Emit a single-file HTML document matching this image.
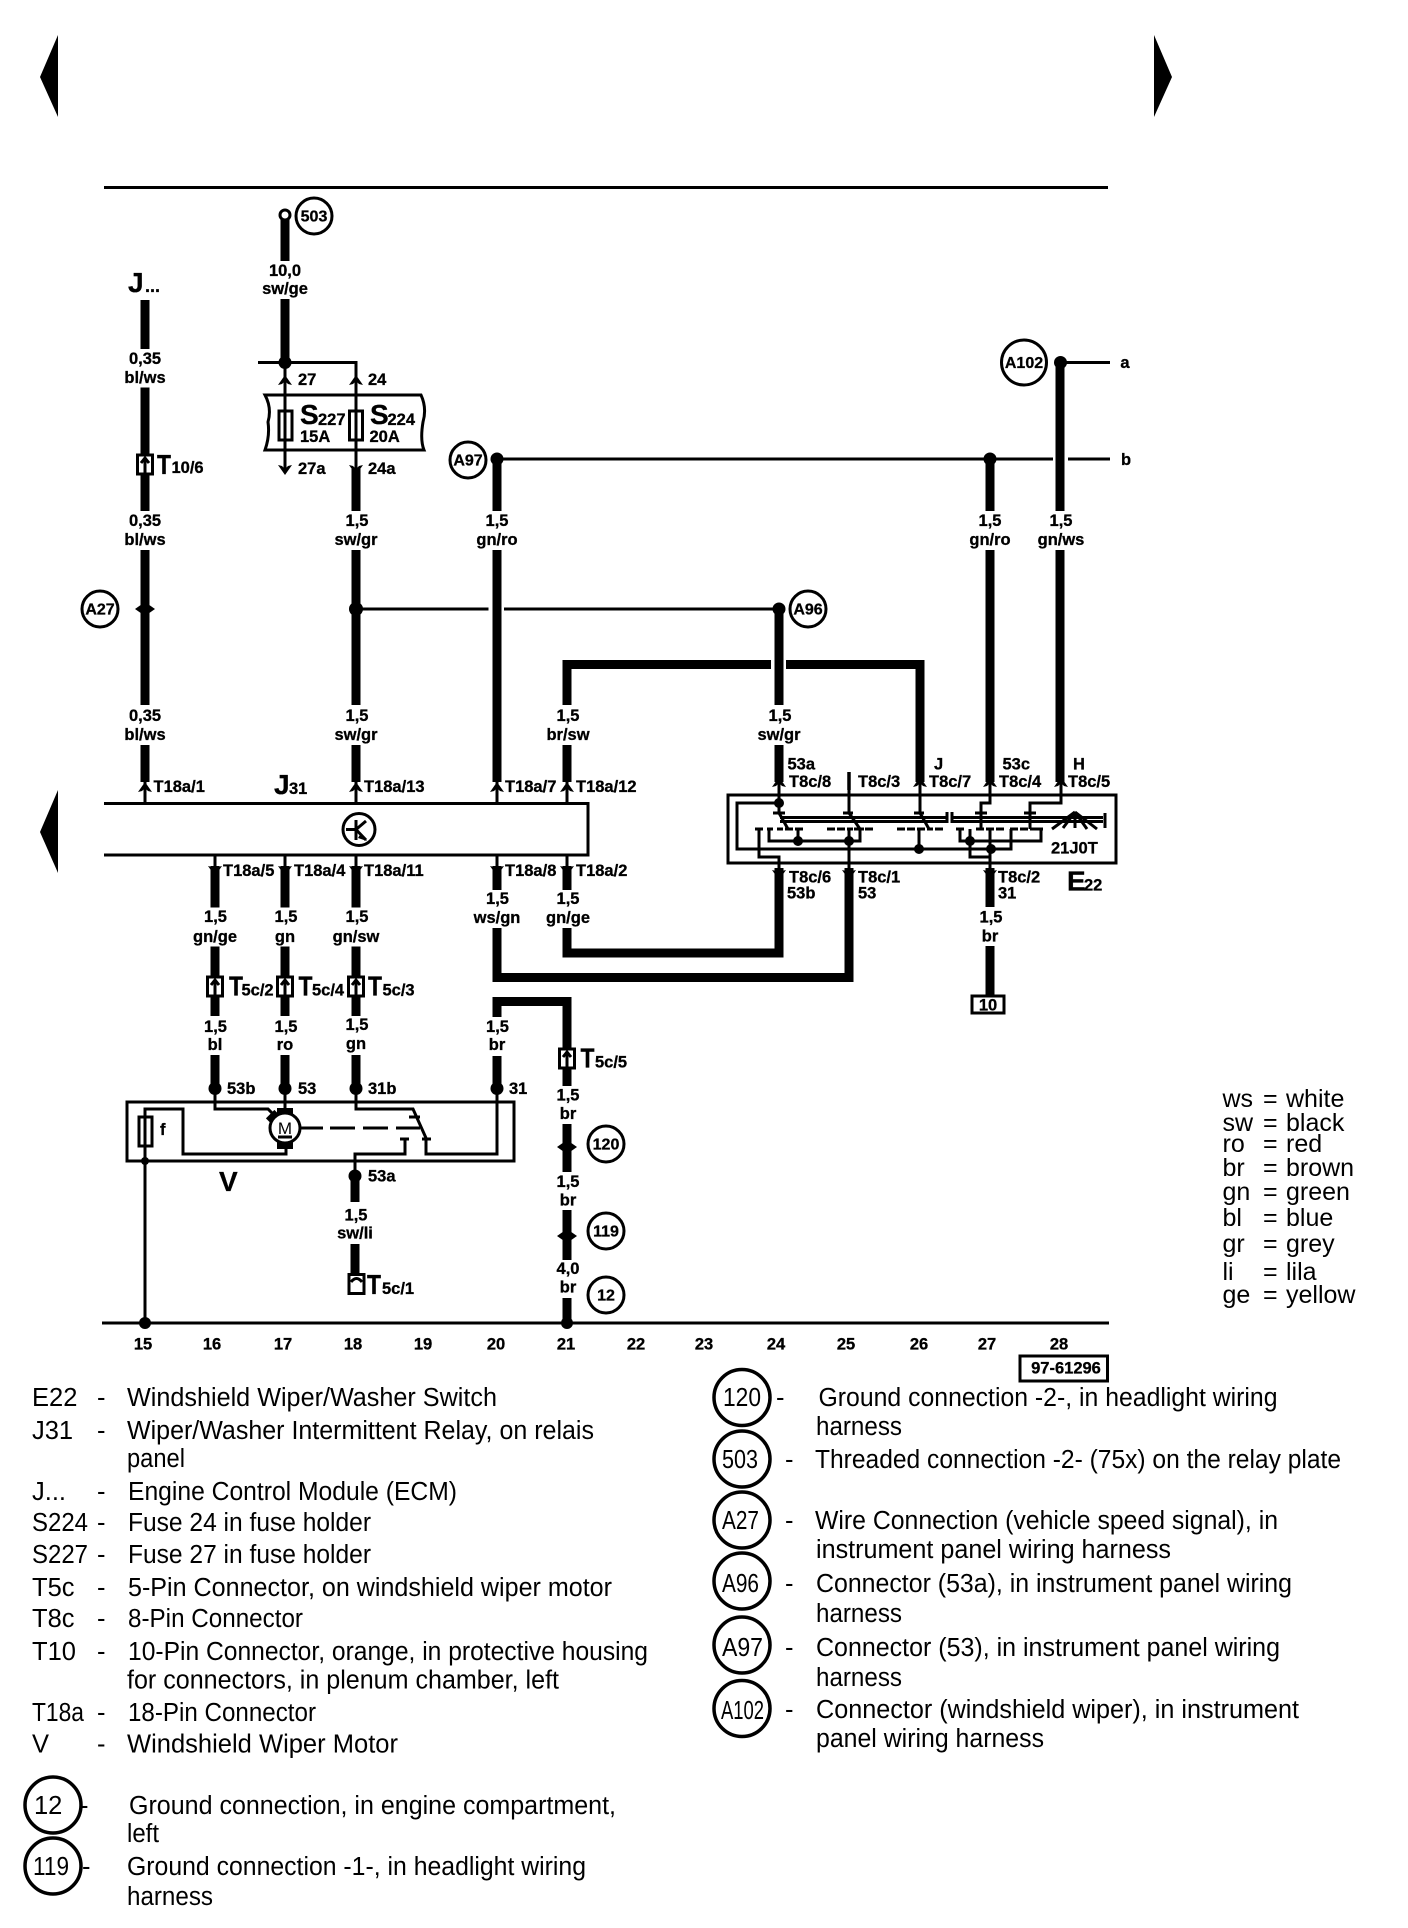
<!DOCTYPE html>
<html><head><meta charset="utf-8"><title>Wiring diagram</title>
<style>
html,body{margin:0;padding:0;background:#fff}
svg{display:block}
text{font-family:"Liberation Sans",sans-serif;fill:#000}
.m text,.s text{font-weight:bold;font-size:16.5px;stroke:#000;stroke-width:.3}
.m text{text-anchor:middle}
.B text{font-weight:bold;font-size:28px;stroke:#000;stroke-width:.3}
.c{font-weight:bold;font-size:16px;text-anchor:middle;stroke:#000;stroke-width:.3}
.d text{font-size:25.5px}
.k text{font-size:25px}
.w{fill:none;stroke:#000;stroke-width:9}
.f{fill:none;stroke:#000;stroke-width:3}
.o{fill:#fff;stroke:#000;stroke-width:3}
.O{fill:none;stroke:#000;stroke-width:3.5}
</style></head><body>
<svg xmlns="http://www.w3.org/2000/svg" width="1408" height="1928" viewBox="0 0 1408 1928">
<defs>
<path id="au" d="M-7 5 L0 -5 L7 5 L3 4 L0 1 L-3 4Z"/>
<path id="ad" d="M-7 -5 L0 5 L7 -5 L3 -4 L0 -1 L-3 -4Z"/>
<g id="cn"><rect x="-7.5" y="0" width="15" height="19" class="o"/><path d="M0 19V5M-4 8L0 3L4 8" class="f"/></g>
<path id="di" d="M-10 0L0 -7L10 0L0 7Z"/>
</defs>
<rect width="1408" height="1928" fill="#fff"/>

<!-- page arrows and frame lines -->
<path d="M58 35L40 77L58 117Z"/>
<path d="M1154 35L1172 77L1154 117Z"/>
<path d="M58 790L40 832L58 873Z"/>
<path d="M104 187.5H1108" class="f"/>
<path d="M102 1323H1109" class="f"/>

<!-- thick wires -->
<g class="w">
<path d="M145 300V349M145 387.5V511M145 550V705M145 745V782"/>
<path d="M285 218V261M285 299V362"/>
<path d="M356 469V511M356 550V705M356 745V782"/>
<path d="M497 459V511M497 550V782"/>
<path d="M567 705V664.5H771M786 664.5H920V782M567 745V782"/>
<path d="M779 609V705M779 745V782"/>
<path d="M990 459V511M990 550V782"/>
<path d="M1060 362V511M1060 550V782"/>
<path d="M215 866V907.5M215 946.5V1016M215 1055V1088"/>
<path d="M285 866V907.5M285 946.5V1016M285 1055V1088"/>
<path d="M356 866V907.5M356 946.5V1016M356 1055V1088"/>
<path d="M497 866V890M497 928V977.5H849V868"/>
<path d="M567 866V890M567 928V953H779V868"/>
<path d="M497 1017V1001.5H567V1086M567 1124V1172M567 1210V1260M567 1298V1323M497 1056V1088"/>
<path d="M990 868V907M990 946V995"/>
<path d="M355 1175V1202M355 1244V1274"/>
</g>

<!-- thin wires -->
<g class="f">
<path d="M258 362.5H356V473M285 362.5V473"/>
<path d="M497 459H1053M1068 459H1110"/>
<path d="M1060 362.5H1110"/>
<path d="M356 609H488.5M504 609H779"/>
<path d="M145 782V803M356 782V803M497 782V803M567 782V803"/>
<path d="M215 855V868M285 855V868M356 855V868M497 855V868M567 855V868"/>
<path d="M145 1161V1323"/>
</g>

<!-- fuse box -->
<path d="M265 395H421Q427 408 423 422Q420 440 424 450H265Q270 436 268 422Q272 408 265 395Z" class="o"/>
<path d="M285 362.5V473M356 362.5V473" class="f"/>
<rect x="279" y="411" width="13" height="29" class="f"/>
<rect x="349.500" y="411" width="13" height="29" class="f"/>
<g>
<use href="#au" x="285" y="380"/><use href="#au" x="356" y="380"/>
<use href="#ad" x="285" y="470"/><use href="#ad" x="356" y="470"/>
</g>

<!-- J31 box -->
<path d="M104 803.500H588V855H104" class="f"/>
<circle cx="359" cy="829.500" r="16" class="f"/>
<path d="M356 820V840M346 829.500H356M356 829.500L366 821M356 829.500L366 840" class="f"/>
<path d="M361 833L367 841L358 838Z"/>
<g>
<use href="#au" x="145" y="787"/><use href="#au" x="356" y="787"/><use href="#au" x="497" y="787"/><use href="#au" x="567" y="787"/>
<use href="#ad" x="215" y="871"/><use href="#ad" x="285" y="871"/><use href="#ad" x="356" y="871"/><use href="#ad" x="497" y="871"/><use href="#ad" x="567" y="871"/>
</g>

<!-- connectors -->
<use href="#cn" x="145" y="455"/>
<use href="#cn" x="215" y="977"/>
<use href="#cn" x="285" y="977"/>
<use href="#cn" x="356" y="977"/>
<use href="#cn" x="567" y="1049"/>
<rect x="349" y="1274.500" width="15" height="19" class="o"/>
<path d="M351 1282Q356.500 1275 362 1282" class="f"/>

<!-- dots -->
<g>
<circle cx="285" cy="362.500" r="6.500"/>
<circle cx="497" cy="459" r="6.500"/>
<circle cx="990" cy="459" r="6.500"/>
<circle cx="1060.500" cy="362.500" r="6.500"/>
<circle cx="779" cy="609" r="6.500"/>
<circle cx="356" cy="609" r="7"/>
<use href="#di" x="145" y="609"/>
<circle cx="215" cy="1088.500" r="6.500"/>
<circle cx="285" cy="1088.500" r="6.500"/>
<circle cx="356" cy="1088.500" r="6.500"/>
<circle cx="497" cy="1088.500" r="6.500"/>
<circle cx="355" cy="1176" r="6.500"/>
<circle cx="145" cy="1323" r="6"/>
<circle cx="567" cy="1323" r="6"/>
<circle cx="145" cy="1161" r="4"/>
<use href="#di" x="567" y="1147"/>
<use href="#di" x="567" y="1236"/>
</g>
<circle cx="285" cy="215" r="5" class="o"/>

<!-- reference circles -->
<g class="f">
<circle cx="314" cy="216" r="18"/>
<circle cx="468" cy="460" r="18"/>
<circle cx="1024" cy="362.500" r="22.500"/>
<circle cx="100" cy="609" r="18"/>
<circle cx="808" cy="609" r="18"/>
<circle cx="606" cy="1144" r="18"/>
<circle cx="606" cy="1231" r="18"/>
<circle cx="606" cy="1295" r="18"/>
</g>
<text class="c" x="314" y="221.500">503</text>
<text class="c" x="468" y="465.500">A97</text>
<text class="c" x="1024" y="368">A102</text>
<text class="c" x="100" y="614.500">A27</text>
<text class="c" x="808" y="614.500">A96</text>
<text class="c" x="606" y="1149.500">120</text>
<text class="c" x="606" y="1236.500">119</text>
<text class="c" x="606" y="1300.500">12</text>

<!-- V motor -->
<rect x="127" y="1102" width="387" height="59" class="f"/>
<rect x="139" y="1117" width="13" height="29" class="f"/>
<path d="M145 1161V1109H183V1154H286V1146" class="f"/>
<path d="M215 1088V1109H268L275 1116" class="f"/>
<path d="M285 1088V1108" class="f"/>
<rect x="277" y="1108" width="16" height="9"/>
<rect x="277" y="1140" width="16" height="9"/>
<rect x="267" y="1113" width="12" height="8" transform="rotate(-45 273 1117)"/>
<circle cx="285" cy="1128" r="15" class="o"/>
<text x="285" y="1134" text-anchor="middle" font-size="17">M</text>
<path d="M278 1137H292" class="f"/>
<path d="M300 1128H323M330 1128H355M363 1128H388M396 1128H420" class="f"/>
<path d="M356 1088V1109H413L426 1138M409 1117H420M422 1139H431M426 1139V1154H497V1088" class="f"/>
<path d="M400 1139H409M405 1139V1154H355V1175" class="f"/>
<g class="s"><text x="160" y="1135">f</text></g>

<!-- E22 switch -->
<rect x="728" y="795" width="388" height="68" class="f"/>
<g class="f">
<path d="M779 780V803H737V849H1011V829"/>
<path d="M849 780V813L860 829M849 829V868"/>
<path d="M920 780V813L929 829M919 829V849"/>
<path d="M990 780V803H981V829"/>
<path d="M1061 780V803H1030V829"/>
<path d="M779 803V813L788 829"/>
<path d="M773 813H785M843 813H853M914 813H924M975 813H987M1024 813H1036"/>
<path d="M780 817.500H947M780 821.500H947M947 812V823M952 812V823M952 817.500H1103M952 821.500H1103M1105 813V828"/>
<path d="M755 829H763M759 829V857H779V868"/>
<path d="M767 829H773M777 829H783M785 829H793M795 829H803"/>
<path d="M769 829V841H860V829M798 829V841"/>
<path d="M827 829H835M837 829H845M847 829H853M854 829H864M865 829H873"/>
<path d="M897 829H905M907 829H915M917 829H925M927 829H933M935 829H943"/>
<path d="M956 829H964M960 829V841H1041V829M970 829V857H990V868M990 829V857"/>
<path d="M976 829H984M986 829H994M996 829H1004M1010 829H1018M1020 829H1028M1030 829H1037M1037 829H1043"/>
<path d="M1075 812L1052 829M1075 812L1063 828M1075 812V828M1075 812L1087 829M1075 812L1097 829"/>
</g>
<circle cx="779" cy="803" r="5"/>
<circle cx="798" cy="841" r="5"/>
<circle cx="849" cy="841" r="5"/>
<circle cx="919" cy="849" r="5"/>
<circle cx="970" cy="841" r="5"/>
<circle cx="991" cy="849" r="5"/>
<use href="#au" x="779" y="782"/><use href="#au" x="920" y="782"/><use href="#au" x="990" y="782"/><use href="#au" x="1061" y="782"/>
<use href="#ad" x="779" y="875"/><use href="#ad" x="849" y="875"/><use href="#ad" x="990" y="875"/>
<path d="M849 772V790" stroke="#000" stroke-width="3.500"/>

<rect x="972" y="996" width="32" height="17" class="o"/>
<rect x="1020" y="1356" width="87.500" height="25" class="f"/>

<!-- wire labels -->
<g class="m">
<text x="285" y="276">10,0</text><text x="285" y="294">sw/ge</text>
<text x="145" y="364">0,35</text><text x="145" y="383">bl/ws</text>
<text x="145" y="526">0,35</text><text x="145" y="545">bl/ws</text>
<text x="357" y="526">1,5</text><text x="356" y="545">sw/gr</text>
<text x="497" y="526">1,5</text><text x="497" y="545">gn/ro</text>
<text x="990" y="526">1,5</text><text x="990" y="545">gn/ro</text>
<text x="1061" y="526">1,5</text><text x="1061" y="545">gn/ws</text>
<text x="145" y="721">0,35</text><text x="145" y="740">bl/ws</text>
<text x="357" y="721">1,5</text><text x="356" y="740">sw/gr</text>
<text x="568" y="721">1,5</text><text x="568" y="740">br/sw</text>
<text x="780" y="721">1,5</text><text x="779" y="740">sw/gr</text>
<text x="215.500" y="922">1,5</text><text x="215" y="942">gn/ge</text>
<text x="286" y="922">1,5</text><text x="285" y="942">gn</text>
<text x="357" y="922">1,5</text><text x="356" y="942">gn/sw</text>
<text x="497.500" y="904">1,5</text><text x="497" y="923">ws/gn</text>
<text x="568" y="904">1,5</text><text x="568" y="923">gn/ge</text>
<text x="215.500" y="1032">1,5</text><text x="215" y="1050">bl</text>
<text x="286" y="1032">1,5</text><text x="285" y="1050">ro</text>
<text x="357" y="1030">1,5</text><text x="356" y="1049">gn</text>
<text x="497.500" y="1032">1,5</text><text x="497" y="1050">br</text>
<text x="568" y="1100.500">1,5</text><text x="568" y="1119">br</text>
<text x="568" y="1187">1,5</text><text x="568" y="1205.500">br</text>
<text x="568" y="1274">4,0</text><text x="568" y="1292.500">br</text>
<text x="356" y="1220.500">1,5</text><text x="355" y="1238.500">sw/li</text>
<text x="991" y="922.500">1,5</text><text x="990" y="941.500">br</text>
<text x="988" y="1010.500">10</text>
<text x="1066" y="1373.500">97-61296</text>
<text x="143" y="1349.500">15</text><text x="212" y="1349.500">16</text><text x="283" y="1349.500">17</text><text x="353" y="1349.500">18</text><text x="423" y="1349.500">19</text><text x="496" y="1349.500">20</text><text x="566" y="1349.500">21</text><text x="636" y="1349.500">22</text><text x="704" y="1349.500">23</text><text x="776" y="1349.500">24</text><text x="846" y="1349.500">25</text><text x="919" y="1349.500">26</text><text x="987" y="1349.500">27</text><text x="1059" y="1349.500">28</text>
<text x="1125" y="368">a</text><text x="1126" y="465">b</text>
</g>

<!-- pin labels -->
<g class="s">
<text x="298" y="385">27</text><text x="368" y="385">24</text>
<text x="298" y="474">27a</text><text x="368" y="474">24a</text>
<text x="153.500" y="792">T18a/1</text><text x="364" y="792">T18a/13</text><text x="505" y="792">T18a/7</text><text x="576" y="792">T18a/12</text>
<text x="223" y="876">T18a/5</text><text x="294" y="876">T18a/4</text><text x="364" y="876">T18a/11</text><text x="505" y="876">T18a/8</text><text x="576" y="876">T18a/2</text>
<text x="227" y="1094">53b</text><text x="298" y="1094">53</text><text x="368" y="1094">31b</text><text x="509" y="1094">31</text>
<text x="368" y="1181.500">53a</text>
<text x="787.500" y="769.500">53a</text><text x="934" y="769.500">J</text><text x="1002.500" y="769.500">53c</text><text x="1073" y="769.500">H</text>
<text x="789" y="787">T8c/8</text><text x="858" y="787">T8c/3</text><text x="929" y="787">T8c/7</text><text x="999" y="787">T8c/4</text><text x="1068" y="787">T8c/5</text>
<text x="789" y="882.500">T8c/6</text><text x="858" y="882.500">T8c/1</text><text x="998" y="882.500">T8c/2</text>
<text x="787" y="898.500">53b</text><text x="858" y="898.500">53</text><text x="998" y="898.500">31</text>
<text x="1051" y="853.500">21J0T</text>
<text x="300" y="442">15A</text><text x="369.500" y="442">20A</text>
<text x="318" y="425">227</text><text x="387.500" y="425">224</text>
<text x="289" y="794">31</text>
<text x="171.500" y="473">10/6</text>
<text x="241.500" y="995.500">5c/2</text><text x="312" y="995.500">5c/4</text><text x="382.500" y="995.500">5c/3</text>
<text x="595" y="1067.500">5c/5</text><text x="382" y="1294">5c/1</text>
<text x="1084" y="890.500">22</text>
<text x="145" y="292" font-size="18" style="font-size:18px">...</text>
</g>
<g class="B">
<text x="128" y="292">J</text>
<text x="300" y="424">S</text><text x="370" y="424">S</text>
<text x="157" y="474" textLength="14" lengthAdjust="spacingAndGlyphs">T</text>
<text x="274" y="794">J</text>
<text x="229" y="995.500" textLength="14" lengthAdjust="spacingAndGlyphs">T</text><text x="298.500" y="995.500" textLength="14" lengthAdjust="spacingAndGlyphs">T</text><text x="368" y="995.500" textLength="14" lengthAdjust="spacingAndGlyphs">T</text>
<text x="580.500" y="1067.500" textLength="14" lengthAdjust="spacingAndGlyphs">T</text><text x="367" y="1294" textLength="14" lengthAdjust="spacingAndGlyphs">T</text>
<text x="219" y="1191">V</text>
<text x="1067" y="890.500">E</text>
</g>

<!-- colour legend -->
<g class="k">
<text x="1222.500" y="1107">ws</text><text x="1263" y="1107">=</text><text x="1286" y="1107">white</text>
<text x="1222.500" y="1131">sw</text><text x="1263" y="1131">=</text><text x="1286" y="1131">black</text>
<text x="1222.500" y="1152">ro</text><text x="1263" y="1152">=</text><text x="1286" y="1152">red</text>
<text x="1222.500" y="1176">br</text><text x="1263" y="1176">=</text><text x="1286" y="1176">brown</text>
<text x="1222.500" y="1200">gn</text><text x="1263" y="1200">=</text><text x="1286" y="1200">green</text>
<text x="1222.500" y="1226">bl</text><text x="1263" y="1226">=</text><text x="1286" y="1226">blue</text>
<text x="1222.500" y="1252">gr</text><text x="1263" y="1252">=</text><text x="1286" y="1252">grey</text>
<text x="1222.500" y="1280">li</text><text x="1263" y="1280">=</text><text x="1286" y="1280">lila</text>
<text x="1222.500" y="1303">ge</text><text x="1263" y="1303">=</text><text x="1286" y="1303">yellow</text>
</g>

<!-- left legend -->
<g class="d">
<text x="32" y="1406">E22</text><text x="97" y="1406">-</text>
<text x="127" y="1406" textLength="370" lengthAdjust="spacingAndGlyphs">Windshield Wiper/Washer Switch</text>
<text x="32" y="1439">J31</text><text x="97" y="1439">-</text>
<text x="127" y="1439" textLength="467" lengthAdjust="spacingAndGlyphs">Wiper/Washer Intermittent Relay, on relais</text>
<text x="127" y="1467" textLength="58" lengthAdjust="spacingAndGlyphs">panel</text>
<text x="32" y="1500">J...</text><text x="97" y="1500">-</text>
<text x="128" y="1500" textLength="329" lengthAdjust="spacingAndGlyphs">Engine Control Module (ECM)</text>
<text x="32" y="1531" textLength="56" lengthAdjust="spacingAndGlyphs">S224</text><text x="97" y="1531">-</text>
<text x="128" y="1531" textLength="243" lengthAdjust="spacingAndGlyphs">Fuse 24 in fuse holder</text>
<text x="32" y="1563" textLength="56" lengthAdjust="spacingAndGlyphs">S227</text><text x="97" y="1563">-</text>
<text x="128" y="1563" textLength="243" lengthAdjust="spacingAndGlyphs">Fuse 27 in fuse holder</text>
<text x="32" y="1596">T5c</text><text x="97" y="1596">-</text>
<text x="128" y="1596" textLength="484" lengthAdjust="spacingAndGlyphs">5-Pin Connector, on windshield wiper motor</text>
<text x="32" y="1627">T8c</text><text x="97" y="1627">-</text>
<text x="128" y="1627" textLength="175" lengthAdjust="spacingAndGlyphs">8-Pin Connector</text>
<text x="32" y="1660">T10</text><text x="97" y="1660">-</text>
<text x="128" y="1660" textLength="520" lengthAdjust="spacingAndGlyphs">10-Pin Connector, orange, in protective housing</text>
<text x="127" y="1688.500" textLength="432" lengthAdjust="spacingAndGlyphs">for connectors, in plenum chamber, left</text>
<text x="32" y="1721" textLength="52" lengthAdjust="spacingAndGlyphs">T18a</text><text x="97" y="1721">-</text>
<text x="128" y="1721" textLength="188" lengthAdjust="spacingAndGlyphs">18-Pin Connector</text>
<text x="32" y="1752.500">V</text><text x="97" y="1752.500">-</text>
<text x="127" y="1752.500" textLength="271" lengthAdjust="spacingAndGlyphs">Windshield Wiper Motor</text>
<text x="34" y="1814">12</text><text x="80" y="1814">-</text>
<text x="129" y="1814" textLength="487" lengthAdjust="spacingAndGlyphs">Ground connection, in engine compartment,</text>
<text x="127" y="1842" textLength="32" lengthAdjust="spacingAndGlyphs">left</text>
<text x="33" y="1875" textLength="36" lengthAdjust="spacingAndGlyphs">119</text><text x="82" y="1875">-</text>
<text x="127" y="1875" textLength="459" lengthAdjust="spacingAndGlyphs">Ground connection -1-, in headlight wiring</text>
<text x="127" y="1905" textLength="86" lengthAdjust="spacingAndGlyphs">harness</text>
</g>
<circle cx="53" cy="1805" r="28" class="O"/>
<circle cx="53" cy="1866" r="28" class="O"/>

<!-- right legend -->
<g class="O">
<circle cx="742" cy="1397.500" r="28"/>
<circle cx="742" cy="1459" r="28"/>
<circle cx="742" cy="1520" r="28"/>
<circle cx="742" cy="1581" r="28"/>
<circle cx="742" cy="1645" r="28"/>
<circle cx="742" cy="1708.500" r="28"/>
</g>
<g class="d">
<text x="723" y="1406" textLength="38" lengthAdjust="spacingAndGlyphs">120</text><text x="776" y="1406">-</text>
<text x="818.500" y="1406" textLength="459" lengthAdjust="spacingAndGlyphs">Ground connection -2-, in headlight wiring</text>
<text x="816" y="1435" textLength="86" lengthAdjust="spacingAndGlyphs">harness</text>
<text x="722" y="1468" textLength="36" lengthAdjust="spacingAndGlyphs">503</text><text x="785" y="1468">-</text>
<text x="815" y="1468" textLength="526" lengthAdjust="spacingAndGlyphs">Threaded connection -2- (75x) on the relay plate</text>
<text x="722" y="1529" textLength="37" lengthAdjust="spacingAndGlyphs">A27</text><text x="785" y="1529">-</text>
<text x="815" y="1529" textLength="463" lengthAdjust="spacingAndGlyphs">Wire Connection (vehicle speed signal), in</text>
<text x="816" y="1558" textLength="355" lengthAdjust="spacingAndGlyphs">instrument panel wiring harness</text>
<text x="722" y="1592" textLength="37" lengthAdjust="spacingAndGlyphs">A96</text><text x="785" y="1592">-</text>
<text x="816" y="1592" textLength="476" lengthAdjust="spacingAndGlyphs">Connector (53a), in instrument panel wiring</text>
<text x="816" y="1622" textLength="86" lengthAdjust="spacingAndGlyphs">harness</text>
<text x="722" y="1656" textLength="41" lengthAdjust="spacingAndGlyphs">A97</text><text x="785" y="1656">-</text>
<text x="816" y="1656" textLength="464" lengthAdjust="spacingAndGlyphs">Connector (53), in instrument panel wiring</text>
<text x="816" y="1686" textLength="86" lengthAdjust="spacingAndGlyphs">harness</text>
<text x="721" y="1719" textLength="43" lengthAdjust="spacingAndGlyphs">A102</text><text x="785" y="1718">-</text>
<text x="816" y="1718" textLength="483" lengthAdjust="spacingAndGlyphs">Connector (windshield wiper), in instrument</text>
<text x="816" y="1747" textLength="228" lengthAdjust="spacingAndGlyphs">panel wiring harness</text>
</g>
</svg>
</body></html>
